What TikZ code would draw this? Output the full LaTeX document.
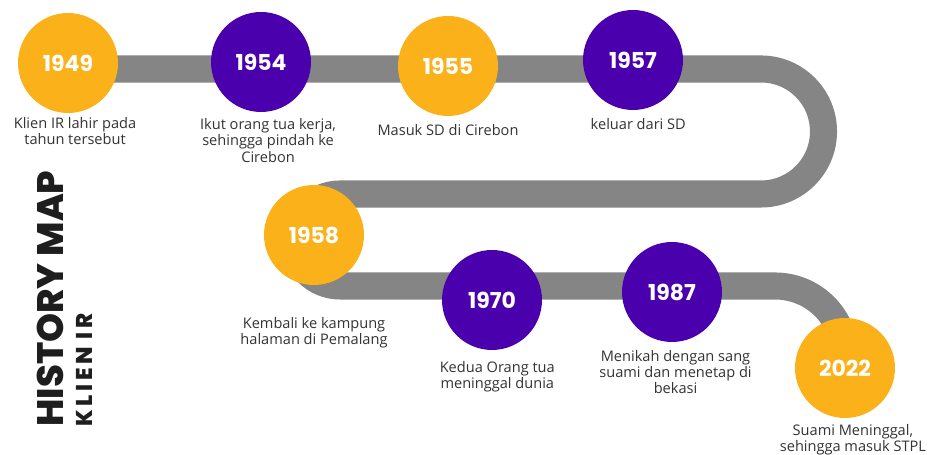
\documentclass[tikz,border=0pt]{standalone}
\usepackage{fontspec}
\setmainfont{Open Sans}
\newfontfamily\headfont{Poppins}
\newfontfamily\titlefont{Poppins ExtraBold}
\usetikzlibrary{positioning}

\definecolor{roadgray}{HTML}{858585}
\definecolor{amber}{HTML}{FBB11A}
\definecolor{yearpurple}{HTML}{4A00AC}
\definecolor{captiongray}{HTML}{333333}
\definecolor{titleblack}{HTML}{1E1E1E}

\begin{document}
\begin{tikzpicture}[
  x=0.02cm, y=0.02cm,
% 1. Thick gray road running behind the years
  road/.style={
    draw=roadgray,
    line width=15.4pt
  },
% 2. Year circles, white bold numbers
  year/.style={
    circle,
    minimum size=2cm,
    inner sep=0pt,
    text=white,
    font=\headfont\bfseries\fontsize{12.5}{12.5}\selectfont
  },
  gold/.style={year, fill=amber},
  plum/.style={year, fill=yearpurple},
% 3. Captions under each year
  caption/.style={
    align=center,
    inner sep=0pt,
    text=captiongray,
    font=\fontsize{8.3}{9.2}\selectfont
  }
]

  % page frame (933 x 455)
  \fill[white] (0,0) rectangle (933,455);
  \useasboundingbox (0,0) rectangle (933,455);

  % Road: top run, right turn, middle run, left turn, bottom run, drop
  \draw[road] (68,386) -- (761,386)
    arc[start angle=90, end angle=-90, radius=62.5] -- (340,261)
    arc[start angle=90, end angle=270, radius=46] -- (775,169)
    arc[start angle=90, end angle=0, radius=70] -- (845,87);

  % Top row
  \node[gold] (y1949) at (68,392) {1949};
  \node[plum] (y1954) at (261,393) {1954};
  \node[gold] (y1955) at (448,389) {1955};
  \node[plum] (y1957) at (633,395) {1957};

  % Middle and bottom rows
  \node[gold] (y1958) at (314,220) {1958};
  \node[plum] (y1970) at (492,155) {1970};
  \node[plum] (y1987) at (672,163) {1987};
  \node[gold] (y2022) at (845,87) {2022};

  % Captions
  \node[caption, below=2pt of y1949, xshift=4pt] (c1949) {Klien IR lahir pada\\tahun tersebut};
  \node[caption, below=3.4pt of y1954, xshift=4pt] (c1954) {Ikut orang tua kerja,\\sehingga pindah ke\\Cirebon};
  \node[caption, below=4.5pt of y1955] (c1955) {Masuk SD di Cirebon};
  \node[caption, below=4.5pt of y1957, xshift=3pt] (c1957) {keluar dari SD};
  \node[caption, below=18pt of y1958] (c1958) {Kembali ke kampung\\halaman di Pemalang};
  \node[caption, below=6pt of y1970, xshift=3pt] (c1970) {Kedua Orang tua\\meninggal dunia};
  \node[caption, below=4.5pt of y1987, xshift=2pt] (c1987) {Menikah dengan sang\\suami dan menetap di\\bekasi};
  \node[caption, below=3pt of y2022, xshift=4.5pt] (c2022) {Suami Meninggal,\\sehingga masuk STPL};

  % Side title
  \node[rotate=90, anchor=base west, inner sep=0pt, text=titleblack,
    font=\titlefont\fontsize{21}{21}\selectfont] (title) at (63,28) {HISTORY MAP};
  \node[rotate=90, anchor=base west, inner sep=0pt, text=titleblack,
    font=\titlefont\fontsize{13}{13}\selectfont\addfontfeatures{LetterSpace=16}] (subtitle) at (92,28) {KLIEN IR};

\end{tikzpicture}
\end{document}
